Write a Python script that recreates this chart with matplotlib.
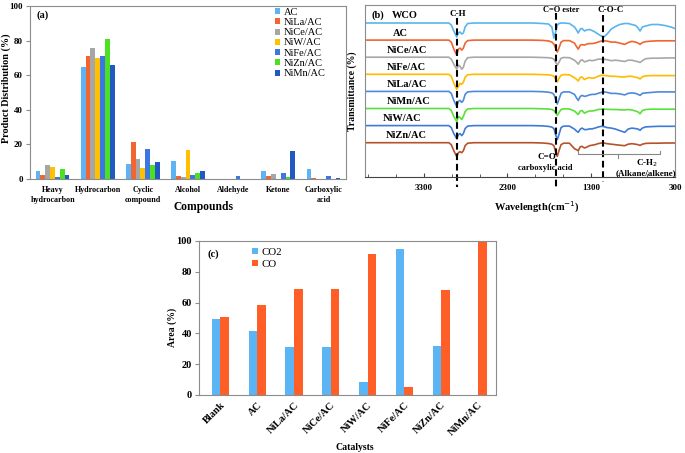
import matplotlib
matplotlib.use("Agg")
import matplotlib.pyplot as plt
from matplotlib.ticker import FixedLocator
import numpy as np

plt.rcParams['font.family'] = ['Liberation Serif', 'DejaVu Serif']

# ---------------- data (a): product distribution (%)
compounds = ["Heavy\nhydrocarbon", "Hydrocarbon", "Cyclic\ncompound", "Alcohol",
             "Aldehyde", "Ketone", "Carboxylic\nacid"]
catalysts_a = ["AC", "NiLa/AC", "NiCe/AC", "NiW/AC", "NiFe/AC", "NiZn/AC", "NiMn/AC"]
dist_AC = [4.8, 65.0, 8.8, 10.4, 0, 4.8, 5.8]
dist_NiLa = [2.5, 71.3, 21.3, 1.7, 0, 1.9, 0.6]
dist_NiCe = [8.1, 75.8, 11.5, 1.0, 0, 2.9, 0]
dist_NiW = [6.7, 70.2, 6.3, 16.5, 0, 0, 0]
dist_NiFe = [1.0, 71.2, 17.5, 2.5, 1.9, 3.7, 1.5]
dist_NiZn = [5.8, 80.8, 8.1, 3.7, 0, 1.0, 0]
dist_NiMn = [2.5, 65.8, 9.8, 4.6, 0, 16.0, 0.5]
colors_a = ["#5eb3f2", "#f26430", "#a6a6a6", "#ffc000", "#3d76e3", "#4ce022", "#2159c4"]

# ---------------- data (b): FTIR spectra (depth below each baseline)
wavenumber = [4000, 3600, 3100, 3000, 2970, 2940, 2905, 2885, 2866, 2845, 2826, 2805, 2775,
              2700, 2400, 2000, 1880, 1810, 1770, 1745, 1725, 1705, 1685, 1660, 1630, 1560,
              1500, 1475, 1455, 1430, 1410, 1380, 1355, 1320, 1290, 1255, 1220, 1180, 1150,
              1110, 1060, 1010, 960, 900, 860, 815, 770, 740, 717, 690, 650, 580, 500, 420,
              350, 300]
spec_names = ["WCO", "AC", "NiCe/AC", "NiFe/AC", "NiLa/AC", "NiMn/AC", "NiW/AC", "NiZn/AC"]
spec_colors = ["#5ab4ee", "#f06530", "#a8a8a8", "#ffbb00", "#4f8ad8", "#5ae03a", "#3f7bd6", "#b5522a"]
depth_WCO = [0, 0, 0, 0, 2, 8, 14, 10, 9, 11, 10, 4, 0.5, 0, 0, 0, 0.5, 1, 4, 15, 9, 2, 0.5, 0,
             0, 0.5, 4, 7, 10, 6, 5.5, 8, 7, 6.5, 7.5, 9, 11, 13, 14, 11, 6, 3.5, 1.5, 0.5, 0.5,
             1.5, 2.5, 5, 8, 4, 3, 1.5, 1.5, 2.5, 4, 5.5]
depth_AC = [0, 0, 0, 0, 2, 9, 15, 9, 8, 10, 8, 3, 0.5, 0, 0, 0, 0.3, 0.8, 2, 4, 8, 12, 8, 2,
            0.5, 0.5, 3, 6.5, 9, 5, 4.5, 5, 4, 3.5, 3.5, 3, 2, 1, 0.7, 1, 2, 2, 3, 4.3, 2.5,
            1.3, 2, 3, 4.3, 2.5, 1.5, 1, 0.7, 0.7, 0.7, 0.7]
depth_NiCe = [0, 0, 0, 0, 2, 7, 12, 8, 9, 12, 10, 4, 0.5, 0, 0, 0, 0.3, 0.5, 1, 2, 5, 8, 5, 1,
              0.3, 0.5, 3, 5, 7, 3.5, 2.5, 4.7, 4, 3, 3.5, 3, 2, 2, 2, 2.5, 3.5, 3, 3.5, 4.3, 3,
              3, 4, 4.5, 5.3, 3.5, 1.5, 1, 1, 0.8, 0.7, 0.7]
depth_NiFe = [0, 0, 0, 0, 2, 9, 15, 12, 9, 10, 8, 3, 0.5, 0, 0, 0, 0.3, 0.5, 1, 2, 5, 7.7, 4, 1,
              0.3, 0.5, 3.5, 5, 6.7, 3, 2.7, 5.3, 4, 3.3, 4, 3.5, 2, 1, 1, 1.5, 2, 2, 2.5, 2.7,
              2, 2, 3, 3.5, 4.7, 2.5, 1.5, 1.3, 1.3, 1.3, 1.3, 1.3]
depth_NiLa = [0, 0, 0, 0, 2, 9, 15, 10, 9, 11, 9, 3, 0.5, 0, 0, 0, 0.3, 0.8, 1.5, 3, 8, 12.7, 8,
              2, 0.5, 0.5, 3, 6.5, 9, 5, 4, 5, 4.5, 3.5, 3, 3, 2, 1, 0.5, 1, 2, 2, 2.5, 3.5, 2,
              1.5, 2, 3, 4, 2, 1.5, 1, 0.5, 0.5, 0.5, 0.5]
depth_NiMn = [0, 0, 0, 0, 2, 8, 13, 8, 9, 11, 8, 3, 0.5, 0, 0, 0, 0.3, 0.5, 1, 2, 4, 7, 4, 1,
              0.3, 0.5, 2.5, 4.5, 6, 2.5, 2, 4.7, 3.5, 2.5, 2.5, 2, 1, 0.7, 0.7, 0.8, 1, 1, 1.3,
              1.5, 1, 1.5, 2.5, 3.5, 5.3, 2, 1, 0.7, 0.7, 0.7, 0.7, 0.7]
depth_NiW = [0, 0, 0, 0, 2, 8, 13, 9, 8, 10, 8, 3, 0.5, 0, 0, 0, 0.3, 0.8, 1.5, 3, 9, 14, 9, 2,
             0.5, 0.5, 3.5, 5.5, 6.7, 3.5, 2.5, 4, 4, 3.3, 3.3, 2.5, 1.5, 0.7, 1, 2, 2.5, 3.5,
             5, 6.7, 3.5, 2.5, 3, 3.5, 4.7, 2.5, 1.3, 1, 0.7, 0.7, 0.7, 0.7]
depth_NiZn = [0, 0, 0, 0, 2, 8, 14, 10, 9, 10, 8, 3, 0.5, 0, 0, 0, 0.3, 0.8, 1.5, 3, 9, 13.7, 8,
              2, 0.5, 0.5, 6, 7, 8, 4, 3.7, 5.3, 4.5, 3, 2.5, 2, 1, 0.3, 0.3, 1, 1.5, 2, 2.5, 3,
              1.5, 1, 1.5, 2, 2.7, 1.5, 0.7, 0.5, 0.5, 0.3, 0.3, 0.3]
spec_depths = [depth_WCO, depth_AC, depth_NiCe, depth_NiFe, depth_NiLa, depth_NiMn,
               depth_NiW, depth_NiZn]
wn_ticks = [3300, 2300, 1300, 300]

# ---------------- data (c): gas area (%)
catalysts_c = ["Blank", "AC", "NiLa/AC", "NiCe/AC", "NiW/AC", "NiFe/AC", "NiZn/AC", "NiMn/AC"]
area_CO2 = [49.4, 41.8, 31.4, 31.0, 8.4, 94.8, 31.8, 0]
area_CO = [50.6, 58.4, 68.6, 69.0, 91.4, 5.2, 68.2, 100]

W, H = 685, 453
fig = plt.figure(figsize=(W / 100, H / 100), dpi=100)
frame = "#8c8c8c"


def px_axes(l, t, r, b):
    return fig.add_axes([l / W, 1 - b / H, (r - l) / W, (b - t) / H])


# ================= (a)
axa = px_axes(30, 6, 346, 179)
series_a = [dist_AC, dist_NiLa, dist_NiCe, dist_NiW, dist_NiFe, dist_NiZn, dist_NiMn]
x = np.arange(len(compounds))
bw = 0.107
for j, vals in enumerate(series_a):
    axa.bar(x + (j - 3) * bw, vals, bw, color=colors_a[j], label=catalysts_a[j])
axa.set_xlim(-0.5, 6.5)
axa.set_ylim(0, 100)
axa.set_yticks(range(0, 101, 20))
axa.tick_params(axis='y', labelsize=6.5, length=3, color=frame, pad=2)
axa.set_xticks(x)
axa.set_xticklabels(compounds, fontsize=5.8, fontweight='bold', linespacing=1.3)
axa.tick_params(axis='x', length=0, pad=5)
for lab in axa.get_yticklabels():
    lab.set_fontweight('bold')
for s in axa.spines.values():
    s.set_color(frame)
    s.set_linewidth(0.8)
axa.text(0.02, 0.93, "(a)", transform=axa.transAxes, fontsize=7.5, fontweight='bold')
axa.legend(loc='upper left', bbox_to_anchor=(0.775, 0.99), frameon=False, fontsize=7.5,
           handlelength=0.5, handleheight=0.5, handletextpad=0.35, labelspacing=0.12,
           borderpad=0, borderaxespad=0)
fig.text(203 / W, 1 - 207 / H, "Compounds", fontsize=8.3, fontweight='bold',
         ha='center', va='center')
fig.text(6 / W, 1 - 88 / H, "Product Distribution (%)", fontsize=7.3, fontweight='bold',
         rotation=90, ha='center', va='center')

# ================= (b)
axb = px_axes(365, 5, 675, 177)
for i, depth in enumerate(spec_depths):
    base = -i * 17.1
    axb.plot(wavenumber, base - np.array(depth), color=spec_colors[i], lw=1.2)
axb.set_xlim(4000, 300)
axb.set_ylim(-154, 18)
axb.set_yticks([])
axb.set_xticks(wn_ticks)
axb.xaxis.set_minor_locator(FixedLocator([300 + k * 1000 / 3 for k in range(12)]))
axb.tick_params(axis='x', which='both', direction='in', labelsize=6.5, pad=5, color='#444444')
axb.tick_params(axis='x', which='major', length=3)
axb.tick_params(axis='x', which='minor', length=2)
for lab in axb.get_xticklabels():
    lab.set_fontweight('bold')
for s in axb.spines.values():
    s.set_color(frame)
    s.set_linewidth(0.8)
axb.spines['bottom'].set_color('#444444')

label_x = [3678, 3666, 3737, 3737, 3737, 3737, 3785, 3749]
for i, name in enumerate(spec_names):
    axb.text(label_x[i], 7 - i * 17.1, name, fontsize=7.5, fontweight='bold', va='center')
axb.text(3928, 8, "(b)", fontsize=7.5, fontweight='bold', va='center')

# band markers
for wpos, ytop, ybot in [(2905, 5, -164), (1715, 10, -164), (1160, 8, -159)]:
    axb.plot([wpos, wpos], [ytop, ybot], color='black', lw=1.5, dashes=(3.2, 1.8),
             clip_on=False)
axb.text(2890, 9, "C-H", fontsize=6.5, fontweight='bold', ha='center', va='center')
axb.text(1660, 13, "C=O ester", fontsize=6, fontweight='bold', ha='center', va='center')
axb.text(1069, 13, "C-O-C", fontsize=6.5, fontweight='bold', ha='center', va='center')
axb.text(1827, -134, "C=O", fontsize=6.5, fontweight='bold', ha='center', va='center')
axb.text(1851, -145, "carboxylic acid", fontsize=6, fontweight='bold', ha='center', va='center')
axb.text(633, -140, "C-H$_2$", fontsize=6.5, fontweight='bold', ha='center', va='center')
axb.text(645, -150, "(Alkane/alkene)", fontsize=6.5, fontweight='bold', ha='center', va='center')
axb.plot([1457, 1457, 478, 478], [-128, -131, -131, -128], color='#888888', lw=0.8)
axb.plot([980, 980], [-131, -135], color='#888888', lw=0.8)
fig.text(537 / W, 1 - 207 / H, "Wavelength(cm$^{-1}$)", fontsize=7.5, fontweight='bold',
         ha='center', va='center')
fig.text(352 / W, 1 - 91 / H, "Transmittance (%)", fontsize=7, fontweight='bold',
         rotation=90, ha='center', va='center')

# ================= (c)
axc = px_axes(199, 241, 496, 395)
xc = np.arange(len(catalysts_c))
bwc = 0.235
axc.bar(xc - bwc / 2, area_CO2, bwc, color="#5bb4f4", label="CO2")
axc.bar(xc + bwc / 2, area_CO, bwc, color="#ff5f26", label="CO")
axc.set_xlim(-0.58, 7.49)
axc.set_ylim(0, 100)
axc.set_yticks(range(0, 101, 20))
axc.tick_params(axis='y', labelsize=7.5, length=3, color=frame, pad=2)
axc.set_xticks(xc)
axc.set_xticklabels(catalysts_c, rotation=45, ha='right', rotation_mode='anchor',
                    fontsize=7.5, fontweight='bold')
axc.tick_params(axis='x', length=0, pad=4)
for lab in axc.get_yticklabels():
    lab.set_fontweight('bold')
for s in axc.spines.values():
    s.set_color(frame)
    s.set_linewidth(0.8)
axc.text(0.027, 0.9, "(c)", transform=axc.transAxes, fontsize=7.5, fontweight='bold')
axc.legend(loc='upper left', bbox_to_anchor=(0.18, 0.955), frameon=False, fontsize=7.8,
           handlelength=0.5, handleheight=0.5, handletextpad=0.35, labelspacing=0.3,
           borderpad=0, borderaxespad=0)
fig.text(355 / W, 1 - 447 / H, "Catalysts", fontsize=7, fontweight='bold',
         ha='center', va='center')
fig.text(172 / W, 1 - 327 / H, "Area (%)", fontsize=7, fontweight='bold',
         rotation=90, ha='center', va='center')

fig.savefig("out.png", dpi=100)
